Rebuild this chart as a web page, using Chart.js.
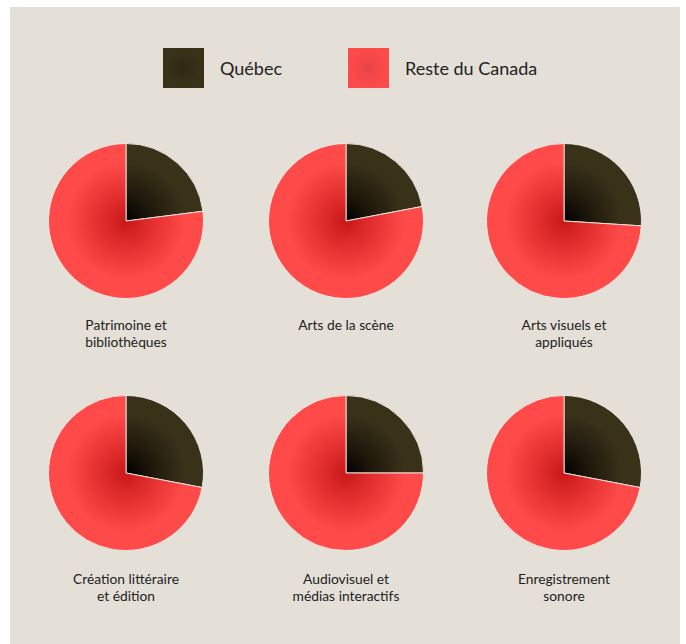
<!DOCTYPE html>
<html>
<head>
<meta charset="utf-8">
<script src="https://cdn.jsdelivr.net/npm/chart.js"></script>
<style>
  body { margin: 0; background: #fff; font-family: Lato, sans-serif; }
  #panel { position: absolute; left: 10px; top: 7px; width: 670px; height: 640px; background: #e4e0d8; }
  .legend-box { position: absolute; width: 41px; height: 40px; }
  .legend-text { position: absolute; font-size: 18px; color: #222; line-height: 40px; }
  .pie { position: absolute; width: 156px; height: 156px; }
  .lbl { position: absolute; width: 200px; text-align: center; font-size: 13.8px; line-height: 17px; color: #222; }
</style>
</head>
<body>
<div id="panel"></div>
<script>
// données
const seriesNames = ['Québec', 'Reste du Canada'];
const categories = [
  ['Patrimoine et', 'bibliothèques'],
  ['Arts de la scène'],
  ['Arts visuels et', 'appliqués'],
  ['Création littéraire', 'et édition'],
  ['Audiovisuel et', 'médias interactifs'],
  ['Enregistrement', 'sonore']
];
const quebec = [23, 22, 26, 28, 25, 28];
const resteCanada = [77, 78, 74, 72, 75, 72];

// positions des centres (px, page)
const centresX = [126, 346, 564];
const centresY = [221, 473];
const labelTop = [95, 97];

// couleurs dégradées : centre, milieu, bord
const sliceColors = [
  ['#000000', '#1c160a', '#3a3119'],
  ['#c81818', '#e02c2c', '#ff4a4a']
];

const panel = document.getElementById('panel');

// légende
function legendItem(x, name, css) {
  const box = document.createElement('div');
  box.className = 'legend-box';
  box.style.left = (x - 10) + 'px';
  box.style.top = '41px';
  box.style.background = css;
  panel.appendChild(box);
  const t = document.createElement('div');
  t.className = 'legend-text';
  t.style.left = (x + 47) + 'px';
  t.style.top = '41px';
  t.textContent = name;
  panel.appendChild(t);
}
legendItem(163, seriesNames[0], 'radial-gradient(circle, #2e2713 0%, #3a3119 60%)');
legendItem(348, seriesNames[1], 'radial-gradient(circle, #e84545 0%, #ff4a4a 70%)');

function gradient(context) {
  const cols = sliceColors[context.dataIndex];
  const chart = context.chart;
  const area = chart.chartArea;
  if (!area) return cols[2];
  const cx = (area.left + area.right) / 2;
  const cy = (area.top + area.bottom) / 2;
  const r = Math.min(area.right - area.left, area.bottom - area.top) / 2;
  const g = chart.ctx.createRadialGradient(cx, cy, 0, cx, cy, r);
  g.addColorStop(0, cols[0]);
  g.addColorStop(0.3, cols[1]);
  g.addColorStop(0.75, cols[2]);
  g.addColorStop(1, cols[2]);
  return g;
}

categories.forEach(function (lines, i) {
  const row = Math.floor(i / 3);
  const cx = centresX[i % 3];
  const cy = centresY[row];

  const div = document.createElement('div');
  div.className = 'pie';
  div.style.left = (cx - 10 - 78) + 'px';
  div.style.top = (cy - 7 - 78) + 'px';
  const canvas = document.createElement('canvas');
  div.appendChild(canvas);
  panel.appendChild(div);

  const lbl = document.createElement('div');
  lbl.className = 'lbl';
  lbl.style.left = (cx - 10 - 100) + 'px';
  lbl.style.top = (cy - 7 + labelTop[row]) + 'px';
  lbl.innerHTML = lines.join('<br>');
  panel.appendChild(lbl);

  new Chart(canvas, {
    type: 'pie',
    data: {
      labels: seriesNames,
      datasets: [{
        data: [quebec[i], resteCanada[i]],
        backgroundColor: gradient,
        borderColor: 'rgba(240,236,230,0.9)',
        borderWidth: 1
      }]
    },
    options: {
      responsive: true,
      maintainAspectRatio: false,
      animation: false,
      layout: { padding: 0 },
      plugins: {
        legend: { display: false },
        tooltip: { enabled: false }
      }
    }
  });
});
</script>
</body>
</html>
